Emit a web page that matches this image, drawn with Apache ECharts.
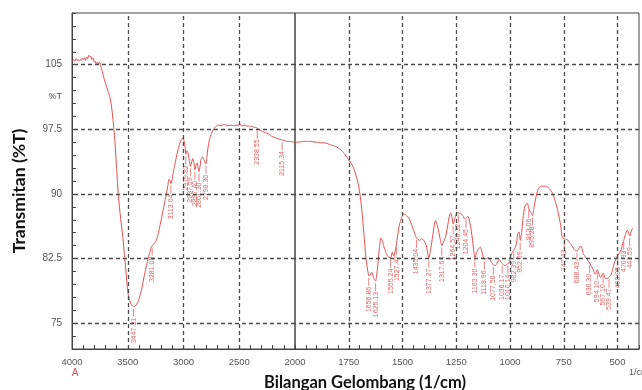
<!DOCTYPE html>
<html><head><meta charset="utf-8">
<script src="https://cdn.jsdelivr.net/npm/echarts/dist/echarts.min.js"></script>
<style>html,body{margin:0;padding:0;background:#fff;}#c{width:642px;height:390px;}</style>
</head><body><div id="c"></div>
<script>
// ---- data (wavenumber in 1/cm, transmittance in %T) ----
const wavenumbers = [3995,3985,3975,3965,3955,3945,3935,3925,3915,3905,3895,3886,3878,3870,3860,3850,3841,3832,3822,3811,3800,3790,3781,3770,3760,3751,3744,3736,3721,3706,3691,3676,3661,3646,3632,3616,3601,3587,3571,3556,3542,3530,3518,3507,3497,3485,3470,3458,3447,3432,3420,3407,3390,3376,3355,3332,3315,3302,3290,3281,3265,3248,3232,3218,3200,3182,3166,3152,3140,3131,3122,3113,3103,3093,3078,3062,3046,3032,3020,3008,2996,2986,2979,2970,2958,2948,2937,2927,2918,2908,2897,2888,2878,2870,2861,2852,2843,2830,2815,2806,2798,2790,2780,2765,2750,2735,2720,2703,2685,2665,2643,2620,2600,2575,2553,2530,2510,2493,2470,2450,2430,2419,2400,2380,2365,2350,2338,2320,2300,2280,2253,2230,2210,2190,2164,2140,2115,2095,2074,2050,2025,2000,
1970,1950,1932,1900,1880,1857,1835,1811,1790,1774,1760,1751,1740,1729,1718,1706,1698,1691,1685,1680,1675,1671,1666,1661,1656,1650,1643,1636,1630,1625,1619,1613,1608,1601,1594,1588,1580,1574,1565,1555,1548,1540,1532,1528,1517,1510,1502,1495,1487,1480,1472,1465,1457,1450,1442,1435,1428,1420,1412,1404,1396,1389,1383,1377,1370,1362,1355,1347,1340,1332,1325,1317,1308,1299,1290,1283,1276,1270,1264,1259,1254,1246,1239,1231,1223,1217,1212,1204,1196,1188,1181,1174,1168,1163,1155,1148,1137,1130,1126,1118,1110,1099,1090,1081,1074,1068,1060,1050,1042,1035,1027,1020,1012,1005,997,988,982,975,968,964,958,952,946,940,935,930,925,919,913,907,901,895,889,882,876,870,862,854,845,835,826,816,807,798,788,779,771,764,760,756,747,740,734,725,715,703,695,688,681,675,669,663,658,650,643,636,630,624,616,610,605,600,594,588,582,578,572,567,562,556,548,541,535,530,523,515,508,500,492,482,476,470,463,455,449,443,437,430];
const transmittance = [105.5,105.6,105.4,105.7,105.5,105.6,105.4,105.6,105.5,105.8,105.6,105.8,105.5,105.9,105.7,106.1,105.9,106.0,105.6,105.8,105.3,105.4,105.0,105.3,105.1,105.3,104.9,104.6,103.8,103.1,102.5,101.9,101.3,100.2,98.6,96.3,93.2,90.3,88.0,86.3,84.7,83.0,81.3,79.6,78.4,77.7,77.2,77.0,76.9,77.0,77.2,77.5,78.2,78.9,80.3,81.7,82.6,83.2,83.8,84.0,84.2,84.5,85.1,85.9,87.0,88.2,89.2,90.1,91.0,91.7,91.6,91.2,91.6,92.4,93.4,94.4,95.3,95.9,96.3,96.5,96.2,95.5,94.6,95.0,94.7,93.9,93.2,93.7,94.1,93.7,92.8,93.3,93.6,93.1,92.6,93.2,94.0,94.3,93.9,93.6,93.5,94.3,95.4,96.4,97.0,97.4,97.7,97.9,98.0,97.9,98.05,98.0,97.9,98.0,97.9,98.0,97.95,98.05,97.9,98.0,97.85,97.9,97.8,97.85,97.7,97.75,97.6,97.45,97.3,97.2,97.05,96.9,96.7,96.6,96.45,96.35,96.25,96.2,96.1,96.1,96.05,96.0,
96.05,96.1,96.1,96.0,95.95,95.9,95.7,95.5,95.2,94.8,94.3,94.0,93.6,93.1,92.3,91.2,90.0,88.6,87.0,85.5,84.0,82.8,81.8,81.0,80.5,80.6,80.9,80.4,80.0,79.9,80.8,82.2,83.6,84.9,84.6,84.0,83.4,83.0,82.7,82.6,83.2,82.8,83.6,84.2,86.1,86.8,87.4,87.7,87.6,87.4,87.3,86.9,86.4,85.9,85.3,84.9,84.7,84.6,84.8,84.7,84.4,84.0,83.2,82.6,83.4,84.7,85.9,86.9,86.5,85.7,84.8,84.0,84.5,85.1,86.3,87.3,87.8,87.3,86.5,86.9,87.4,87.8,87.8,87.7,87.6,87.4,87.1,87.2,87.4,86.8,85.9,84.6,83.3,82.6,83.2,83.6,83.8,83.2,82.8,82.4,82.5,82.6,82.2,81.9,81.7,81.7,82.0,82.4,82.1,81.9,81.7,81.7,81.9,82.0,82.8,83.3,83.5,83.8,84.6,85.4,85.6,84.6,85.5,87.0,88.0,88.6,88.8,88.9,88.4,88.0,87.8,87.5,88.3,89.3,90.0,90.5,90.8,90.9,90.9,90.9,90.8,90.6,90.3,89.8,89.0,88.2,87.2,86.3,85.5,84.9,84.8,84.7,84.7,84.4,84.1,83.6,83.4,83.4,83.6,83.9,83.9,83.4,83.0,82.7,82.5,82.2,82.0,81.7,81.4,81.0,80.7,80.9,81.2,80.8,80.4,80.3,80.6,80.8,80.6,80.2,80.2,80.3,80.5,80.6,81.2,82.0,82.4,82.8,83.1,83.6,84.2,84.7,85.3,85.8,85.5,85.1,85.6,86.0];

const peakWavenumbers = [3447.31,3281.08,3113.04,2979.82,2937.59,2897.40,2861.30,2798.30,2338.55,2115.34,1656.86,1625.13,1555.24,1527.47,1435.04,1377.27,1317.64,1264.57,1240.32,1204.45,1163.30,1118.96,1077.50,1036.17,1010.14,982.39,952.69,913.06,895.28,747.42,688.43,630.30,594.10,567.10,539.47,498.95,470.93,443.59];
const peakTransmittance = [76.9,84.0,91.2,94.6,93.2,92.8,92.6,93.5,97.6,96.25,80.5,79.9,82.6,84.1,84.9,82.6,84.0,86.5,87.8,87.2,82.6,82.4,81.8,81.9,81.9,83.5,84.6,88.4,87.5,84.8,83.4,82.0,81.2,80.8,80.3,82.8,84.7,85.1];

const yMajorTicks = [75, 82.5, 90, 97.5, 105];
const xMajorHigh = [4000, 3500, 3000, 2500];
const xMajorLow = [2000, 1750, 1500, 1250, 1000, 750, 500];
const xGridHigh = [3500, 3000, 2500];
const xGridLow = [1750, 1500, 1250, 1000, 750, 500];

// ---- build ----
const pts = wavenumbers.map((w, i) => [w, transmittance[i]]);
const highPts = pts.filter(p => p[0] >= 2000);
const lowPts = pts.filter(p => p[0] <= 2000);
const peaks = peakWavenumbers.map((w, i) => [w, peakTransmittance[i]]);
const highPeaks = peaks.filter(p => p[0] >= 2000);
const lowPeaks = peaks.filter(p => p[0] < 2000);

const curveColor = '#e44c4c';
const labelColor = '#e46464';
const gridLine = { type: [4, 3], color: '#4a4a4a', width: 1.3 };

function peakRender(params, api) {
  const p = api.coord([api.value(0), api.value(1)]);
  const txt = api.value(0).toFixed(2);
  return {
    type: 'group',
    children: [
      { type: 'line', shape: { x1: p[0], y1: p[1] + 2, x2: p[0], y2: p[1] + 10 },
        style: { stroke: labelColor, lineWidth: 0.8 } },
      { type: 'text', x: p[0], y: p[1] + 11, rotation: Math.PI / 2,
        style: { text: txt, fill: labelColor, font: '7px "Liberation Sans", Arial', align: 'right', verticalAlign: 'middle' } }
    ]
  };
}

function markLines(vals) {
  return {
    silent: true, symbol: 'none', label: { show: false }, animation: false,
    lineStyle: gridLine,
    data: [...yMajorTicks.map(v => ({ yAxis: v })), ...vals.map(v => ({ xAxis: v }))]
  };
}

const axisTextStyle = { color: '#555', fontFamily: '"Liberation Sans", Arial', fontSize: 9.5 };

const option = {
  animation: false,
  grid: [
    { left: 72, top: 13, width: 223, height: 336, show: true, borderColor: '#444', borderWidth: 1 },
    { left: 295, top: 13, width: 354, height: 336, show: true, borderColor: '#444', borderWidth: 1 }
  ],
  xAxis: [
    { type: 'value', gridIndex: 0, min: 2000, max: 4000, interval: 100, inverse: true,
      axisLine: { show: true, lineStyle: { color: '#444' } },
      axisTick: { show: true, inside: true, length: 4, lineStyle: { color: '#444' } },
      splitLine: { show: false },
      axisLabel: Object.assign({ margin: 8, showMinLabel: true, showMaxLabel: true,
        formatter: v => xMajorHigh.includes(v) ? String(v) : '' }, axisTextStyle) },
    { type: 'value', gridIndex: 1, min: 400, max: 2000, interval: 50, inverse: true,
      axisLine: { show: true, lineStyle: { color: '#444' } },
      axisTick: { show: true, inside: true, length: 4, lineStyle: { color: '#444' } },
      splitLine: { show: false },
      axisLabel: Object.assign({ margin: 8, showMinLabel: true, showMaxLabel: true,
        formatter: v => xMajorLow.includes(v) ? String(v) : '' }, axisTextStyle) }
  ],
  yAxis: [
    { type: 'value', gridIndex: 0, min: 72, max: 111, interval: 1.5,
      axisLine: { show: true, lineStyle: { color: '#444' } },
      axisTick: { show: true, inside: true, length: 4, lineStyle: { color: '#444' } },
      splitLine: { show: false },
      axisLabel: Object.assign({ margin: 10,
        formatter: v => yMajorTicks.includes(v) ? String(v) : '' }, axisTextStyle, { fontSize: 10 }) },
    { type: 'value', gridIndex: 1, min: 72, max: 111, interval: 1.5, show: false }
  ],
  series: [
    { type: 'line', xAxisIndex: 0, yAxisIndex: 0, data: highPts, showSymbol: false, smooth: 0.2,
      lineStyle: { color: curveColor, width: 1 }, markLine: markLines(xGridHigh), z: 3 },
    { type: 'line', xAxisIndex: 1, yAxisIndex: 1, data: lowPts, showSymbol: false, smooth: 0.2,
      lineStyle: { color: curveColor, width: 1 }, markLine: markLines(xGridLow), z: 3 },
    { type: 'custom', xAxisIndex: 0, yAxisIndex: 0, data: highPeaks, renderItem: peakRender, z: 4, clip: false },
    { type: 'custom', xAxisIndex: 1, yAxisIndex: 1, data: lowPeaks, renderItem: peakRender, z: 4, clip: false }
  ],
  graphic: [
    { type: 'text', x: 19, y: 191, rotation: Math.PI / 2,
      style: { text: 'Transmitan (%T)', font: 'bold 17.5px Lato', fill: '#111', align: 'center', verticalAlign: 'middle' } },
    { type: 'text', x: 365, y: 383,
      style: { text: 'Bilangan Gelombang (1/cm)', font: 'bold 16.5px Lato', fill: '#111', align: 'center', verticalAlign: 'middle' } },
    { type: 'text', x: 62, y: 97,
      style: { text: '%T', font: '9px "Liberation Sans", Arial', fill: '#555', align: 'right', verticalAlign: 'middle' } },
    { type: 'text', x: 75, y: 373,
      style: { text: 'A', font: '10px "Liberation Sans", Arial', fill: '#e24a4a', align: 'center', verticalAlign: 'middle' } },
    { type: 'text', x: 629, y: 373,
      style: { text: '1/cm', font: '9px "Liberation Sans", Arial', fill: '#555', align: 'left', verticalAlign: 'middle' } }
  ]
};

const chart = echarts.init(document.getElementById('c'), null, { renderer: 'canvas' });
chart.setOption(option);
</script>
</body></html>
